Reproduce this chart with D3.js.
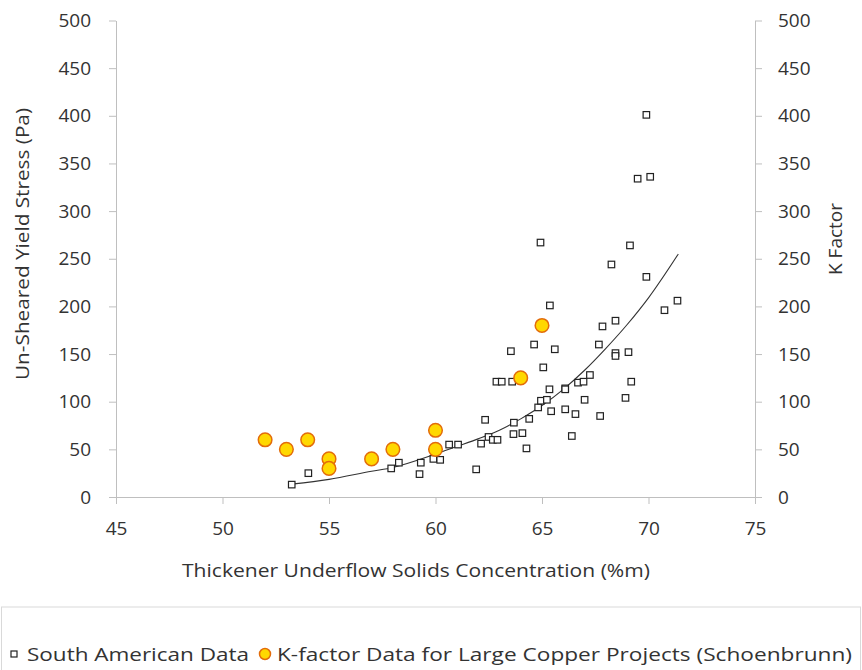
<!DOCTYPE html>
<html><head><meta charset="utf-8">
<script src="https://cdn.jsdelivr.net/npm/d3@7"></script>
<style>body{margin:0;background:#fff}text{font-family:"Open Sans",Lato,sans-serif;fill:#333}</style>
</head><body>
<svg id="c" width="862" height="670"></svg>
<script>
// South American Data (x: solids %m, y: yield stress Pa)
const saX = [53.25,54.03,57.92,58.28,59.25,59.31,59.90,60.22,60.64,61.06,61.91,62.33,62.14,62.49,62.69,62.91,62.86,63.11,63.60,63.54,63.68,63.66,64.08,64.27,64.40,64.63,64.82,64.95,65.23,65.06,65.35,65.43,65.37,65.60,64.93,66.09,66.09,66.09,66.40,66.57,66.69,66.95,67.00,67.25,67.67,67.73,67.84,68.26,68.45,68.45,68.45,68.92,69.06,69.13,69.19,69.49,69.90,69.90,70.08,70.75,71.36];
const saY = [13,25,30,36,24,36,40,39,55,55,29,81,56,63,60,60,121,121,121,153,78,66,67,51,82,160,94,101,102,136,113,90,201,155,267,114,113,92,64,87,120,121,102,128,160,85,179,244,151,148,185,104,152,264,121,334,401,231,336,196,206];
// K-factor Data for Large Copper Projects (Schoenbrunn)
const kX = [52,53,54,55,55,57,58,60,60,64,65];
const kY = [60,50,60,40,30,40,50,70,50,125,180];
// Trendline
const trX = [53.25,55,57,58,60,61,62,63,64,65,66,67,68,69,70,71.4];
const trY = [13.5,18.5,27,31,45,53,61,70,82,96,113,133,156,181,209,255];
const xTicks = [45,50,55,60,65,70,75];
const yTicks = [0,50,100,150,200,250,300,350,400,450,500];

const svg = d3.select("#c");
const x = d3.scaleLinear([45,75],[116,755]);
const y = d3.scaleLinear([0,500],[497,20.5]);
const y2 = d3.scaleLinear([0,500],[497,20.5]);
const axisCol = "#bfbfbf", fs = 19;

function style(g){
  g.select(".domain").attr("stroke",axisCol).attr("fill","none");
  g.selectAll(".tick line").attr("stroke",axisCol);
  g.selectAll(".tick text").attr("font-size",fs).attr("font-family","Lato").attr("fill","#333");
}
svg.append("g").attr("transform","translate(0,497)")
  .call(d3.axisBottom(x).tickValues(xTicks).tickSize(7).tickPadding(18).tickSizeOuter(0)).call(style);
svg.append("g").attr("transform","translate(116,0)")
  .call(d3.axisLeft(y).tickValues(yTicks).tickSize(7).tickPadding(18).tickSizeOuter(0)).call(style);
svg.append("g").attr("transform","translate(755,0)")
  .call(d3.axisRight(y2).tickValues(yTicks).tickSize(7).tickPadding(16).tickSizeOuter(0)).call(style);

// trendline
const line = d3.line().x((d,i)=>x(trX[i])).y((d,i)=>y(trY[i])).curve(d3.curveMonotoneX);
svg.append("path").attr("d",line(trX)).attr("fill","none").attr("stroke","#333").attr("stroke-width",1.1);

// squares
const s = 6.5;
svg.append("g").selectAll("rect").data(saX).join("rect")
  .attr("x",(d,i)=>x(d)-s/2).attr("y",(d,i)=>y(saY[i])-s/2)
  .attr("width",s).attr("height",s).attr("fill","#fff").attr("stroke","#222").attr("stroke-width",1.2);

// circles
svg.append("g").selectAll("circle").data(kX).join("circle")
  .attr("cx",d=>x(d)).attr("cy",(d,i)=>y2(kY[i])).attr("r",6.8)
  .attr("fill","#ffd800").attr("stroke","#e36c0a").attr("stroke-width",1.5);

// titles
svg.append("text").attr("x",182).attr("y",577).attr("font-size",fs)
  .attr("textLength",468).attr("lengthAdjust","spacingAndGlyphs")
  .text("Thickener Underflow Solids Concentration (%m)");
svg.append("text").attr("transform","translate(29,380) rotate(-90)").attr("font-size",fs)
  .attr("textLength",272).attr("lengthAdjust","spacingAndGlyphs")
  .text("Un-Sheared Yield Stress (Pa)");
svg.append("text").attr("transform","translate(842,239) rotate(-90)").attr("text-anchor","middle").attr("font-size",fs)
  .text("K Factor");

// legend
svg.append("rect").attr("x",1.5).attr("y",607).attr("width",859).attr("height",100)
  .attr("fill","none").attr("stroke","#d9d9d9");
svg.append("rect").attr("x",11).attr("y",651).attr("width",6).attr("height",6)
  .attr("fill","#fff").attr("stroke","#222").attr("stroke-width",1.2);
svg.append("text").attr("x",27).attr("y",661).attr("font-size",fs)
  .attr("textLength",222).attr("lengthAdjust","spacingAndGlyphs").text("South American Data");
svg.append("circle").attr("cx",265).attr("cy",654).attr("r",5.5)
  .attr("fill","#ffd800").attr("stroke","#e36c0a").attr("stroke-width",1.5);
svg.append("text").attr("x",277).attr("y",661).attr("font-size",fs)
  .attr("textLength",575).attr("lengthAdjust","spacingAndGlyphs").text("K-factor Data for Large Copper Projects (Schoenbrunn)");
</script>
</body></html>
